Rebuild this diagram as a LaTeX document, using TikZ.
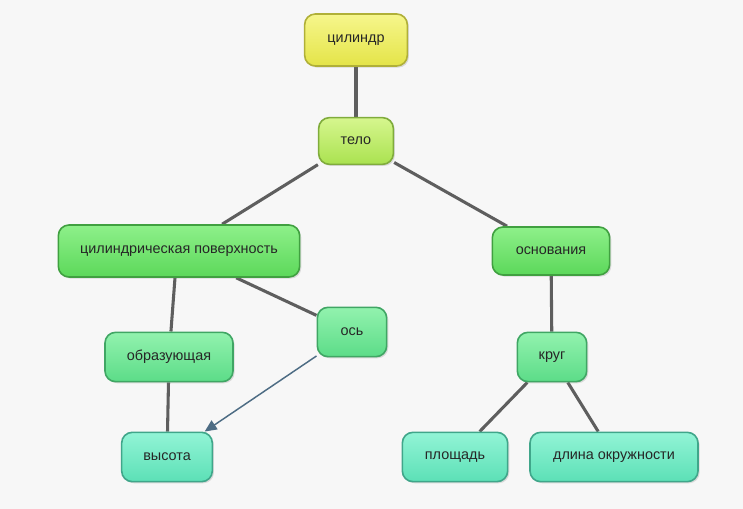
\documentclass[tikz,border=0pt]{standalone}
\usepackage{fontspec}
\setmainfont{Liberation Sans}
\usetikzlibrary{arrows.meta, shadows, backgrounds}

\definecolor{bgpaper}{HTML}{F7F7F7}
\definecolor{linkgray}{HTML}{5E5E5E}
\definecolor{arrowblue}{HTML}{4D6C84}

\begin{document}
\begin{tikzpicture}[x=0.75pt, y=-0.75pt]
		\tikzstyle{Concept} = [rectangle, rounded corners=8pt, align=center, line width=1.2pt, font=\fontsize{10.8}{13}\selectfont, text=black!85, drop shadow={opacity=0.25, shadow xshift=1.2pt, shadow yshift=-1.2pt}]
		\tikzstyle{Yellow} = [Concept, top color={rgb,255:red,246;green,246;blue,140}, bottom color={rgb,255:red,228;green,228;blue,72}, draw={rgb,255:red,176;green,176;blue,56}]
		\tikzstyle{Lime} = [Concept, top color={rgb,255:red,214;green,246;blue,142}, bottom color={rgb,255:red,170;green,226;blue,80}, draw={rgb,255:red,128;green,172;blue,60}]
		\tikzstyle{Green} = [Concept, top color={rgb,255:red,142;green,240;blue,138}, bottom color={rgb,255:red,92;green,216;blue,90}, draw={rgb,255:red,64;green,160;blue,64}]
		\tikzstyle{Mint} = [Concept, top color={rgb,255:red,146;green,242;blue,174}, bottom color={rgb,255:red,92;green,220;blue,136}, draw={rgb,255:red,64;green,166;blue,100}]
		\tikzstyle{Teal} = [Concept, top color={rgb,255:red,146;green,244;blue,214}, bottom color={rgb,255:red,92;green,224;blue,182}, draw={rgb,255:red,64;green,166;blue,138}]
		\tikzstyle{link} = [linkgray, line width=2.3pt]
		\tikzstyle{pointer} = [arrowblue, line width=1.1pt, -{Triangle[length=9pt, width=8pt]}]

		\useasboundingbox (0,0) rectangle (743,509);

		\node (cylinder) [Yellow, minimum width=77pt, minimum height=39pt] at (356,40) {цилиндр};
		\node (body) [Lime, minimum width=56pt, minimum height=35pt] at (356,141) {тело};
		\node (surface) [Green, minimum width=181pt, minimum height=39pt] at (179,251) {цилиндрическая поверхность};
		\node (bases) [Green, minimum width=88pt, minimum height=36pt] at (551,251) {основания};
		\node (axis) [Mint, minimum width=52pt, minimum height=37pt] at (352,332) {ось};
		\node (generatrix) [Mint, minimum width=96pt, minimum height=37pt] at (169,357) {образующая};
		\node (circle) [Mint, minimum width=52pt, minimum height=37pt] at (552,357) {круг};
		\node (height) [Teal, minimum width=68pt, minimum height=37pt] at (167,457) {высота};
		\node (area) [Teal, minimum width=79pt, minimum height=37pt] at (455,457) {площадь};
		\node (perimeter) [Teal, minimum width=126pt, minimum height=37pt] at (614,457) {длина окружности};

		\begin{scope}[on background layer]
			\fill[bgpaper] (0,0) rectangle (743,509);
			\draw[link] (cylinder) -- (body);
			\draw[link] (body) -- (surface);
			\draw[link] (body) -- (bases);
			\draw[link] (surface.south -| generatrix.north) ++(6,0) -- (generatrix);
			\draw[link] (surface) -- (axis);
			\draw[link] (generatrix) -- (height);
			\draw[link] (bases) -- (circle);
			\draw[link] (circle) -- (area);
			\draw[link] (circle) -- (perimeter);
		\end{scope}
		\draw[pointer] (axis) -- (height);
\end{tikzpicture}
\end{document}
